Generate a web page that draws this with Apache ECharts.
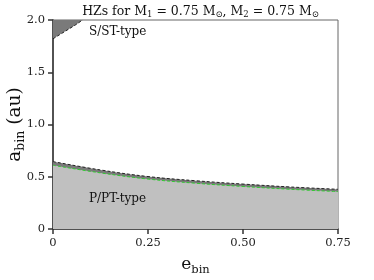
<!DOCTYPE html>
<html><head><meta charset="utf-8">
<script src="https://cdn.jsdelivr.net/npm/echarts@6/dist/echarts.min.js"></script>
<style>html,body{margin:0;padding:0;background:#fff}#c{width:374px;height:280px}</style>
</head><body><div id="c"></div>
<script>
const eOuter = [0, 0.125, 0.25, 0.375, 0.5, 0.625, 0.75];
const aOuter = [0.645, 0.565, 0.502, 0.462, 0.43, 0.402, 0.38];
const eInner = [0, 0.125, 0.25, 0.375, 0.5, 0.625, 0.75];
const aInner = [0.61, 0.537, 0.478, 0.438, 0.407, 0.38, 0.358];
const eS = [0, 0.02, 0.04, 0.06, 0.078];
const aS = [1.82, 1.865, 1.91, 1.955, 2.0];
const xTicks = ['0', '0.25', '0.50', '0.75'];
const yTicks = ['0', '0.5', '1.0', '1.5', '2.0'];

const serif = '"DejaVu Serif", "Liberation Serif", serif';
const zip = (xs, ys) => xs.map((x, i) => [x, ys[i]]);
const chart = echarts.init(document.getElementById('c'));
chart.setOption({
  animation: false,
  title: {
    text: 'HZs for M{s|1} = 0.75 M{s|\u2299}, M{s|2} = 0.75 M{s|\u2299}',
    left: 195.5, textAlign: 'center', top: -1,
    textStyle: { fontFamily: serif, fontSize: 12.5, fontWeight: 'normal', color: '#111',
      rich: { s: { fontFamily: serif, fontSize: 8.5, verticalAlign: 'bottom', padding: [6, 0, 0, 0], color: '#111' } } }
  },
  grid: { left: 53, right: 36, top: 20, bottom: 51, containLabel: false, outerBoundsMode: 'none',
    show: true, borderColor: '#666', borderWidth: 1 },
  xAxis: {
    type: 'value', min: 0, max: 0.75, interval: 0.25,
    name: 'e{s|bin}', nameLocation: 'middle', nameGap: 25, nameMoveOverlap: false,
    nameTextStyle: { fontFamily: serif, fontSize: 17, color: '#111',
      rich: { s: { fontFamily: serif, fontSize: 11.5, padding: [10, 0, 0, 0], color: '#111' } } },
    axisLine: { show: true, onZero: false, lineStyle: { color: '#333', width: 1.5 } },
    axisTick: { show: true, length: 5, lineStyle: { color: '#333', width: 1.5 } },
    axisLabel: { fontFamily: serif, fontSize: 11.5, color: '#222', margin: 8,
      formatter: v => xTicks[Math.round(v / 0.25)] },
    splitLine: { show: false }
  },
  yAxis: {
    type: 'value', min: 0, max: 2, interval: 0.5,
    name: 'a{s|bin} (au)', nameLocation: 'middle', nameGap: 26, nameMoveOverlap: false,
    nameTextStyle: { fontFamily: serif, fontSize: 18.5, color: '#111',
      rich: { s: { fontFamily: serif, fontSize: 12.5, padding: [10, 0, 0, 0], color: '#111' } } },
    axisLine: { show: true, onZero: false, lineStyle: { color: '#333', width: 1.5 } },
    axisTick: { show: true, length: 5, lineStyle: { color: '#333', width: 1.5 } },
    axisLabel: { fontFamily: serif, fontSize: 11.5, color: '#222', margin: 8,
      formatter: v => yTicks[Math.round(v / 0.5)] },
    splitLine: { show: false }
  },
  series: [
    { type: 'line', data: zip(eOuter, aOuter), smooth: 0.4, symbol: 'none', z: 2,
      lineStyle: { color: '#222', width: 1, type: [3, 2] },
      areaStyle: { color: '#7a7a7a', opacity: 1 } },
    { type: 'line', data: zip(eInner, aInner), smooth: 0.4, symbol: 'none', z: 3,
      lineStyle: { color: '#2ecc2e', width: 1, type: [3, 2] },
      areaStyle: { color: '#c0c0c0', opacity: 1 } },
    { type: 'line', data: zip(eS, aS), symbol: 'none', z: 3,
      lineStyle: { color: '#222', width: 1, type: [3, 2] },
      areaStyle: { color: '#7a7a7a', opacity: 1, origin: 'end' } }
  ],
  graphic: [
    { type: 'text', z: 100, left: 89, top: 26, style: { text: 'S/ST-type', fontFamily: serif, fontSize: 12, fill: '#111' } },
    { type: 'text', z: 100, left: 89, top: 193, style: { text: 'P/PT-type', fontFamily: serif, fontSize: 12, fill: '#111' } }
  ]
});
</script></body></html>
